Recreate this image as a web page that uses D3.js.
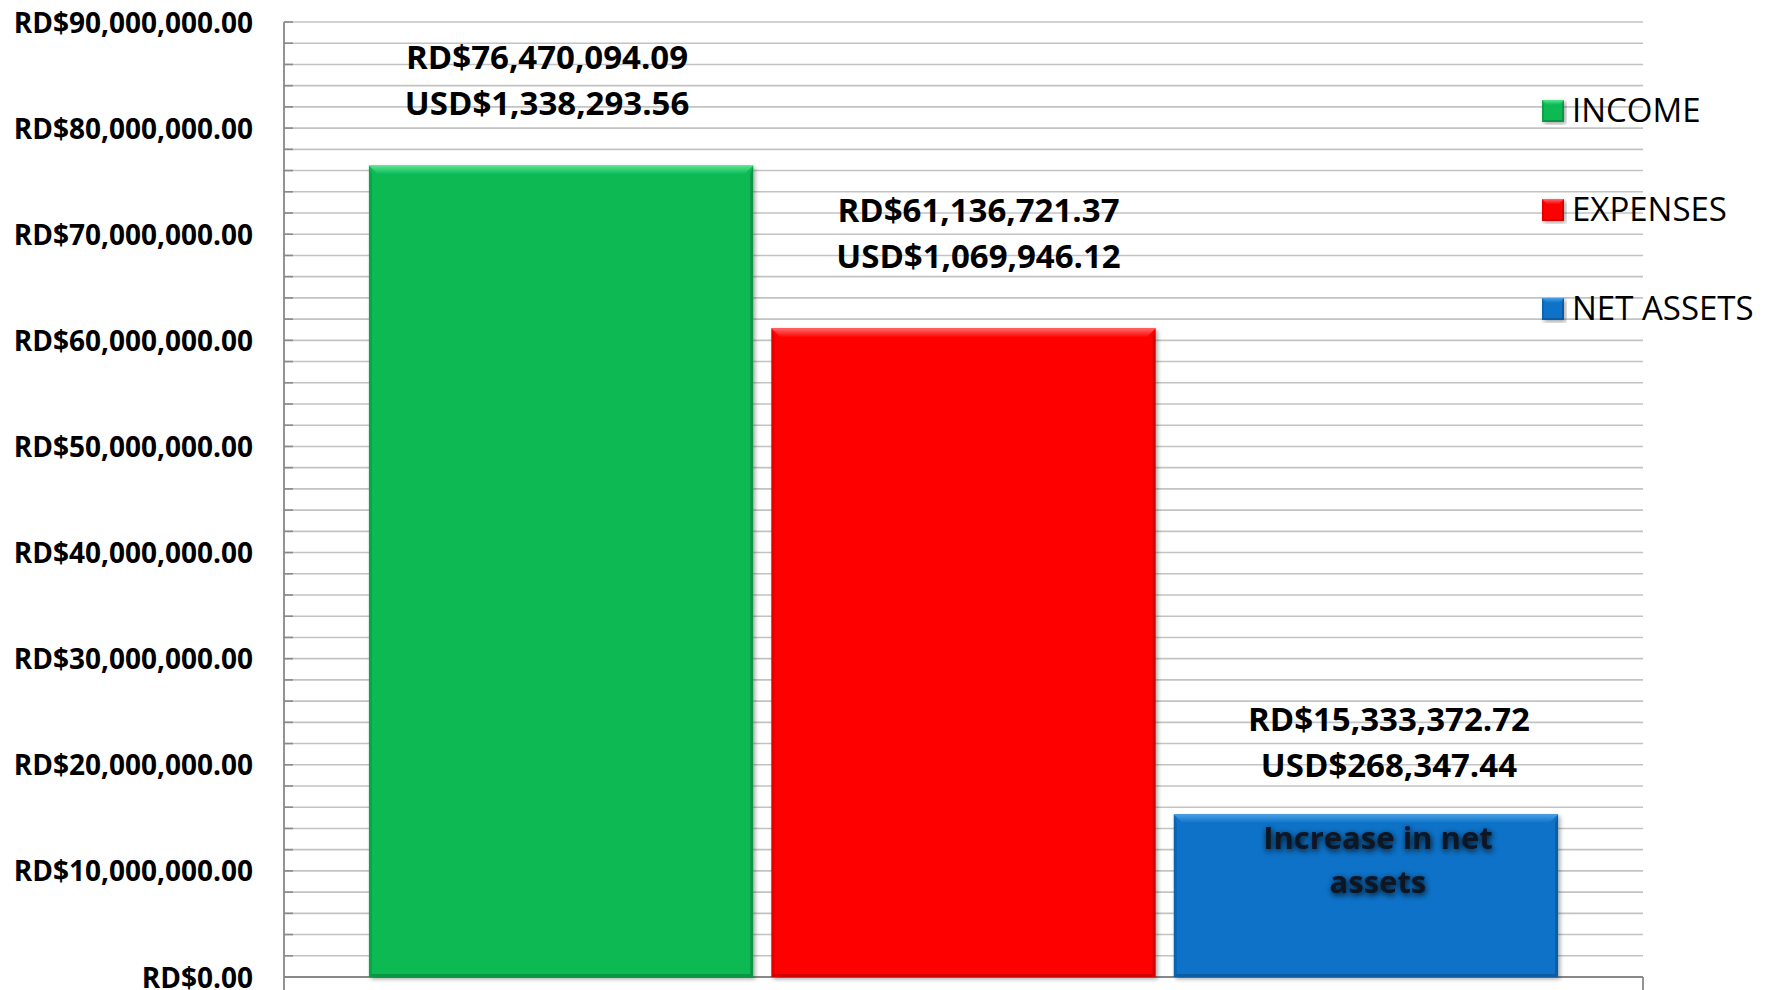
<!DOCTYPE html>
<html>
<head>
<meta charset="utf-8">
<script src="https://cdn.jsdelivr.net/npm/d3@7"></script>
<style>
  body { margin: 0; background: #fff; }
  svg { display: block; }
  text { font-family: "Open Sans", "Liberation Sans", sans-serif; }
</style>
</head>
<body>
<svg id="chart" width="1768" height="990"></svg>
<script>

/* ----- Data ----- */
const series = ["INCOME", "EXPENSES", "NET ASSETS"];
const rdValues = [76470094.09, 61136721.37, 15333372.72];
const usdValues = [1338293.56, 1069946.12, 268347.44];
const barColors = ["#07b953", "#fe0404", "#0a72c8"];
const bevelColors = ["#5ae492", "#ff6a6a", "#4aa0e6"];
const yMax = 90000000;
const yMajorStep = 10000000;
const yMinorStep = 2000000;
const innerLabel = ["Increase in net", "assets"];

let svg = d3.select("#chart");
let width = +svg.attr("width");
let height = +svg.attr("height");

let plot = {left: 284, right: 1643, top: 22, bottom: 977};

/* ----- Scales ----- */
let y = d3.scaleLinear()
    .domain([0, yMax])
    .range([plot.bottom, plot.top]);

let x = d3.scaleBand()
    .domain(series)
    .range([plot.left, plot.right])
    .paddingInner(0.045)
    .paddingOuter(0.211);

let fmt = d3.format(",.2f");

/* ----- Filters ----- */
let defs = svg.append("defs");

let shadow = defs.append("filter").attr("id", "barShadow")
    .attr("x", "-5%").attr("y", "-5%").attr("width", "115%").attr("height", "115%");
shadow.append("feDropShadow")
    .attr("dx", 2).attr("dy", 2).attr("stdDeviation", 2)
    .attr("flood-color", "#000").attr("flood-opacity", 0.35);

let glow = defs.append("filter").attr("id", "textGlow")
    .attr("x", "-20%").attr("y", "-40%").attr("width", "140%").attr("height", "180%");
glow.append("feGaussianBlur").attr("in", "SourceAlpha").attr("stdDeviation", 3).attr("result", "blur");
glow.append("feOffset").attr("in", "blur").attr("dx", 1).attr("dy", 2).attr("result", "off");
glow.append("feComponentTransfer").attr("in", "off").attr("result", "soft")
    .append("feFuncA").attr("type", "linear").attr("slope", 0.9);
let merge = glow.append("feMerge");
merge.append("feMergeNode").attr("in", "soft");
merge.append("feMergeNode").attr("in", "SourceGraphic");

series.forEach((s, i) => {
    let g = defs.append("linearGradient").attr("id", "top_" + i)
        .attr("x1", 0).attr("y1", 0).attr("x2", 0).attr("y2", 1);
    g.append("stop").attr("offset", "0%").attr("stop-color", bevelColors[i]);
    g.append("stop").attr("offset", "100%").attr("stop-color", barColors[i]);
});

/* ----- Gridlines ----- */
let minorTicks = d3.range(yMinorStep, yMax + 1, yMinorStep);

svg.append("g")
    .selectAll("line")
    .data(minorTicks)
    .enter()
    .append("line")
    .attr("x1", plot.left)
    .attr("x2", plot.right)
    .attr("y1", d => y(d))
    .attr("y2", d => y(d))
    .attr("stroke", "#c3c3c3")
    .attr("stroke-width", 1.6);

// small tick marks on the axis
svg.append("g")
    .selectAll("line")
    .data(minorTicks)
    .enter()
    .append("line")
    .attr("x1", plot.left)
    .attr("x2", plot.left + 9)
    .attr("y1", d => y(d))
    .attr("y2", d => y(d))
    .attr("stroke", "#8a8a8a")
    .attr("stroke-width", 1.6);

/* ----- Axes ----- */
let yAxis = d3.axisLeft(y)
    .tickValues(d3.range(0, yMax + 1, yMajorStep))
    .tickSize(0)
    .tickPadding(31)
    .tickFormat(d => "RD$" + fmt(d));

let yAxisG = svg.append("g")
    .attr("transform", `translate(${plot.left},0)`)
    .call(yAxis);
yAxisG.select(".domain").remove();
yAxisG.selectAll("text")
    .attr("font-family", "'Open Sans', sans-serif")
    .attr("font-size", 28)
    .attr("font-weight", "bold")
    .attr("fill", "#000")
    .attr("dy", "0.36em");

// axis lines
svg.append("line")
    .attr("x1", plot.left).attr("x2", plot.left)
    .attr("y1", plot.top).attr("y2", height)
    .attr("stroke", "#888").attr("stroke-width", 1.8);
svg.append("line")
    .attr("x1", plot.left).attr("x2", plot.right)
    .attr("y1", plot.bottom).attr("y2", plot.bottom)
    .attr("stroke", "#888").attr("stroke-width", 1.8);
svg.append("line")
    .attr("x1", plot.right).attr("x2", plot.right)
    .attr("y1", plot.bottom).attr("y2", height)
    .attr("stroke", "#888").attr("stroke-width", 1.8);

/* ----- Bars ----- */
function bevelBar(g, bx, by, bw, bh, i, b) {
    g.append("rect")
        .attr("x", bx).attr("y", by)
        .attr("width", bw).attr("height", bh)
        .attr("fill", barColors[i])
        .attr("filter", "url(#barShadow)");
    // top bevel
    g.append("path")
        .attr("d", `M${bx},${by}L${bx + bw},${by}L${bx + bw - b},${by + b}L${bx + b},${by + b}Z`)
        .attr("fill", `url(#top_${i})`);
    // side bevels
    let s = Math.max(2, b / 3);
    g.append("path")
        .attr("d", `M${bx},${by}L${bx + s},${by + b}L${bx + s},${by + bh - s}L${bx},${by + bh}Z`)
        .attr("fill", "#000").attr("opacity", 0.12);
    g.append("path")
        .attr("d", `M${bx + bw},${by}L${bx + bw - s},${by + b}L${bx + bw - s},${by + bh - s}L${bx + bw},${by + bh}Z`)
        .attr("fill", "#000").attr("opacity", 0.18);
    g.append("path")
        .attr("d", `M${bx},${by + bh}L${bx + s},${by + bh - s}L${bx + bw - s},${by + bh - s}L${bx + bw},${by + bh}Z`)
        .attr("fill", "#000").attr("opacity", 0.18);
}

let bars = svg.append("g");
series.forEach((s, i) => {
    let g = bars.append("g").attr("class", "bar");
    bevelBar(g, x(s), y(rdValues[i]), x.bandwidth(), y(0) - y(rdValues[i]), i, 9);
});

/* ----- Data labels (moved by hand in the original) ----- */
let labelNudge = [[-14, -97], [15, -106], [23, -83]];

let labels = svg.append("g")
    .selectAll("text")
    .data(series)
    .enter()
    .append("text")
    .attr("text-anchor", "middle")
    .attr("font-size", 33)
    .attr("font-weight", "bold")
    .attr("fill", "#000")
    .attr("x", (d, i) => x(d) + x.bandwidth() / 2 + labelNudge[i][0])
    .attr("y", (d, i) => y(rdValues[i]) + labelNudge[i][1]);

labels.append("tspan")
    .text((d, i) => "RD$" + fmt(rdValues[i]));
labels.append("tspan")
    .attr("x", (d, i) => x(d) + x.bandwidth() / 2 + labelNudge[i][0])
    .attr("dy", 46)
    .text((d, i) => "USD$" + fmt(usdValues[i]));

/* ----- Text inside the net assets bar ----- */
let netX = x(series[2]) + x.bandwidth() / 2 + 12;
let inner = svg.append("text")
    .attr("text-anchor", "middle")
    .attr("font-size", 31)
    .attr("font-weight", "bold")
    .attr("fill", "#0c1520")
    .attr("filter", "url(#textGlow)")
    .attr("x", netX)
    .attr("y", y(rdValues[2]) + 35);
inner.selectAll("tspan")
    .data(innerLabel)
    .enter()
    .append("tspan")
    .attr("x", netX)
    .attr("dy", (d, i) => i === 0 ? 0 : 44)
    .text(d => d);

/* ----- Legend ----- */
let legend = svg.append("g")
    .attr("transform", "translate(1542, 100)");

let items = legend.selectAll("g")
    .data(series)
    .enter()
    .append("g")
    .attr("transform", (d, i) => `translate(0, ${i * 99})`);

items.each(function (d, i) {
    bevelBar(d3.select(this), 0, 0, 22, 22, i, 5);
});

items.append("text")
    .attr("x", 30)
    .attr("y", 22)
    .attr("font-size", 33)
    .attr("fill", "#000")
    .text(d => d);

</script>
</body>
</html>
